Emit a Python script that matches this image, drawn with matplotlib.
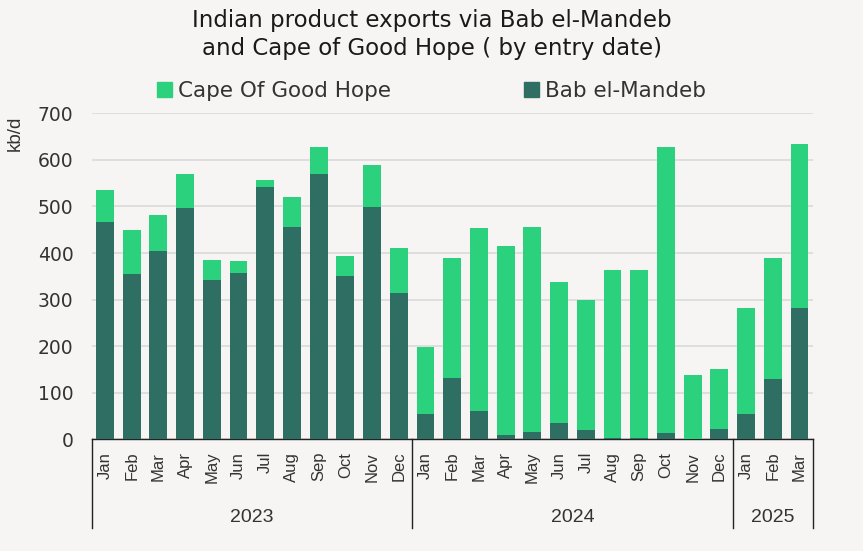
import numpy as np
import matplotlib.pyplot as plt
import matplotlib.transforms as mtransforms
from matplotlib.patches import Patch

# values (kb/d)
months = ["Jan", "Feb", "Mar", "Apr", "May", "Jun",
          "Jul", "Aug", "Sep", "Oct", "Nov", "Dec"] * 2 + ["Jan", "Feb", "Mar"]
years = ["2023", "2024", "2025"]
year_sizes = [12, 12, 3]
bab_el_mandeb = [466, 356, 405, 496, 341, 357, 541, 456, 569, 350, 498, 315,
                 54, 132, 61, 9, 16, 35, 19, 2, 2, 13, 0, 22,
                 54, 129, 283]
cape_good_hope = [70, 94, 77, 73, 44, 25, 15, 65, 58, 43, 90, 96,
                  145, 257, 392, 406, 440, 303, 280, 361, 361, 614, 138, 129,
                  229, 260, 351]

BG = "#f6f5f3"
DARK = "#2f6e62"
LIGHT = "#2cd17d"
TXT = "#333333"
NARROW = ["Liberation Sans", "DejaVu Sans"]
WIDE = ["DejaVu Sans"]

plt.rcParams["font.family"] = NARROW

W, H = 863, 551
fig = plt.figure(figsize=(W / 100, H / 100), dpi=100, facecolor=BG)

# axes box in pixels
x0, x1 = 91.6, 812.9
y_top, y_bot = 113.3, 439.3
ax = fig.add_axes([x0 / W, 1 - y_bot / H, (x1 - x0) / W, (y_bot - y_top) / H])
ax.set_facecolor(BG)

x = np.arange(len(months))
ax.bar(x, bab_el_mandeb, width=0.67, color=DARK, zorder=3)
ax.bar(x, cape_good_hope, width=0.67, bottom=bab_el_mandeb, color=LIGHT, zorder=3)

ax.set_xlim(-0.5, len(months) - 0.5)
ax.set_ylim(0, 700)
ax.set_yticks(range(0, 701, 100))
ax.yaxis.grid(True, color="#dadada", linewidth=1.2, zorder=0)
ax.tick_params(axis="y", length=0, pad=13, labelsize=13.5, labelcolor=TXT)
for lab in ax.get_yticklabels():
    lab.set_family(WIDE)

ax.set_xticks(x)
ax.set_xticklabels(months, rotation=90, fontsize=12, color=TXT)
ax.tick_params(axis="x", length=0, pad=9)

for s in ["top", "right", "left"]:
    ax.spines[s].set_visible(False)
ax.spines["bottom"].set_color("#222222")
ax.spines["bottom"].set_linewidth(1.0)

# year groups under the month labels
trans = mtransforms.blended_transform_factory(ax.transData, ax.transAxes)
sep_bottom = -(528 - y_bot) / (y_bot - y_top)
year_y = -(517 - y_bot) / (y_bot - y_top)
edges = np.concatenate([[0], np.cumsum(year_sizes)]) - 0.5
for e in edges:
    ax.plot([e, e], [0, sep_bottom], color="#222222", lw=1.0,
            transform=trans, clip_on=False)
for yr, a, b in zip(years, edges[:-1], edges[1:]):
    ax.text((a + b) / 2, year_y, yr, transform=trans, ha="center", va="center",
            fontsize=14, color=TXT,
            family=["Liberation Sans Narrow", "Liberation Sans", "DejaVu Sans"])

fig.text(15 / W, 1 - 133 / H, "kb/d", rotation=90, ha="center", va="center",
         fontsize=13.5, color=TXT)

fig.text(0.5, 1 - 21 / H, "Indian product exports via Bab el-Mandeb",
         ha="center", va="center", fontsize=16.5, color="#1a1a1a", family=WIDE)
fig.text(0.5, 1 - 49 / H, "and Cape of Good Hope ( by entry date)",
         ha="center", va="center", fontsize=16.5, color="#1a1a1a", family=WIDE)

handles = [Patch(color=LIGHT, label="Cape Of Good Hope"),
           Patch(color=DARK, label="Bab el-Mandeb")]
fig.legend(handles=handles, loc="center", bbox_to_anchor=(0.5, 1 - 91 / H),
           ncol=2, frameon=False, labelcolor=TXT,
           prop={"family": WIDE, "size": 15.5},
           handlelength=0.7, handleheight=0.7, handletextpad=0.25,
           columnspacing=6.2)

fig.savefig("out.png", dpi=100, facecolor=BG)
